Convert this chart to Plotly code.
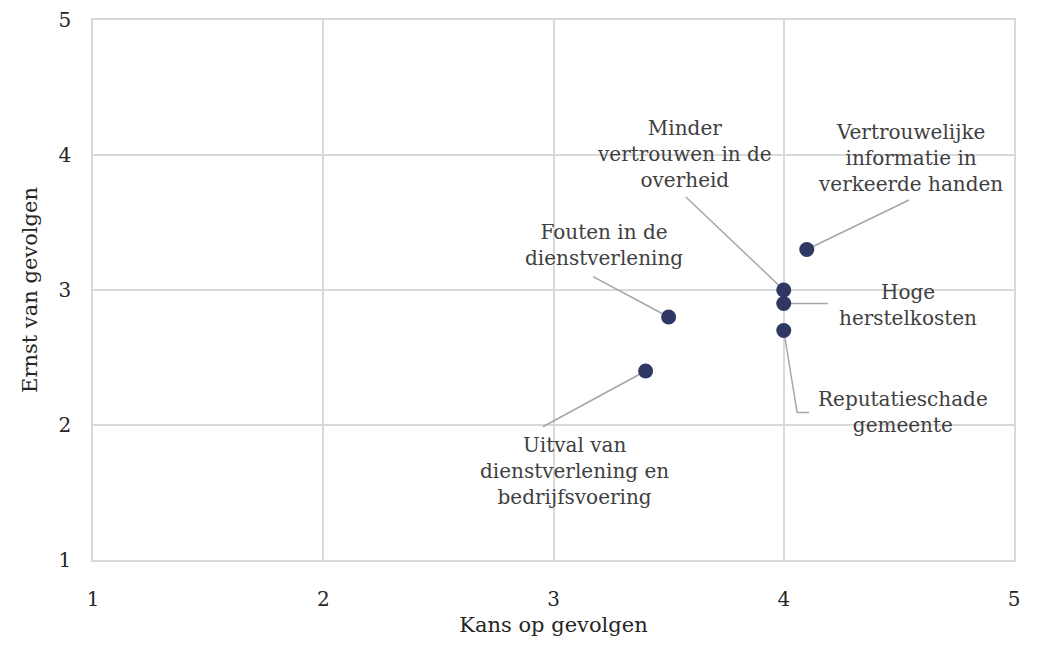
import plotly.graph_objects as go

# risico's: kans (x) en ernst (y)
kans = [3.4, 3.5, 4.0, 4.0, 4.0, 4.1]
ernst = [2.4, 2.8, 3.0, 2.9, 2.7, 3.3]
labels = [
    "Uitval van<br>dienstverlening en<br>bedrijfsvoering",
    "Fouten in de<br>dienstverlening",
    "Minder<br>vertrouwen in de<br>overheid",
    "Hoge<br>herstelkosten",
    "Reputatieschade<br>gemeente",
    "Vertrouwelijke<br>informatie in<br>verkeerde handen",
]
# index of the point each label belongs to
label_point = [0, 1, 2, 3, 4, 5]
# label centre positions (data units)
label_x = [3.09, 3.22, 3.57, 4.54, 4.52, 4.55]
label_y = [1.66, 3.33, 4.01, 2.89, 2.10, 3.98]
# leader line: extra bend points from label side
leader_x = [[2.954], [3.172], [3.575], [4.192], [4.110, 4.058], [4.544]]
leader_y = [[1.987], [3.099], [3.689], [2.900], [2.092, 2.092], [3.667]]

font = "DejaVu Serif"
fig = go.Figure()

for i, p in enumerate(label_point):
    fig.add_trace(go.Scatter(
        x=leader_x[i] + [kans[p]],
        y=leader_y[i] + [ernst[p]],
        mode="lines",
        line=dict(color="#a6a6a6", width=1.5),
        hoverinfo="skip",
        showlegend=False))

fig.add_trace(go.Scatter(
    x=kans, y=ernst,
    mode="markers",
    marker=dict(color="#2f3765", size=15),
    showlegend=False))

for i in range(len(labels)):
    fig.add_annotation(
        x=label_x[i], y=label_y[i],
        text=labels[i],
        showarrow=False,
        font=dict(family=font, size=20, color="#404040"),
        align="center")

fig.update_layout(
    width=1022, height=629,
    margin=dict(l=85, r=16, t=12, b=77),
    paper_bgcolor="white",
    plot_bgcolor="white",
    font=dict(family=font, color="#262626"),
    xaxis=dict(
        range=[1, 5], dtick=1, showgrid=True, gridcolor="#d9d9d9", gridwidth=1.5,
        showline=True, mirror=True, linecolor="#d9d9d9", linewidth=1.5,
        zeroline=False, ticks="", ticklabelstandoff=20, automargin=False,
        ticklabeloverflow="allow",
        tickfont=dict(size=20), title=dict(text="Kans op gevolgen", font=dict(size=21))),
    yaxis=dict(
        range=[1, 5], dtick=1, showgrid=True, gridcolor="#d9d9d9", gridwidth=1.5,
        showline=True, mirror=True, linecolor="#d9d9d9", linewidth=1.5,
        zeroline=False, ticks="", ticklabelstandoff=16, automargin=False,
        ticklabeloverflow="allow",
        tickfont=dict(size=20), title=dict(text="Ernst van gevolgen", font=dict(size=21))),
)

fig.write_html("out.html")
